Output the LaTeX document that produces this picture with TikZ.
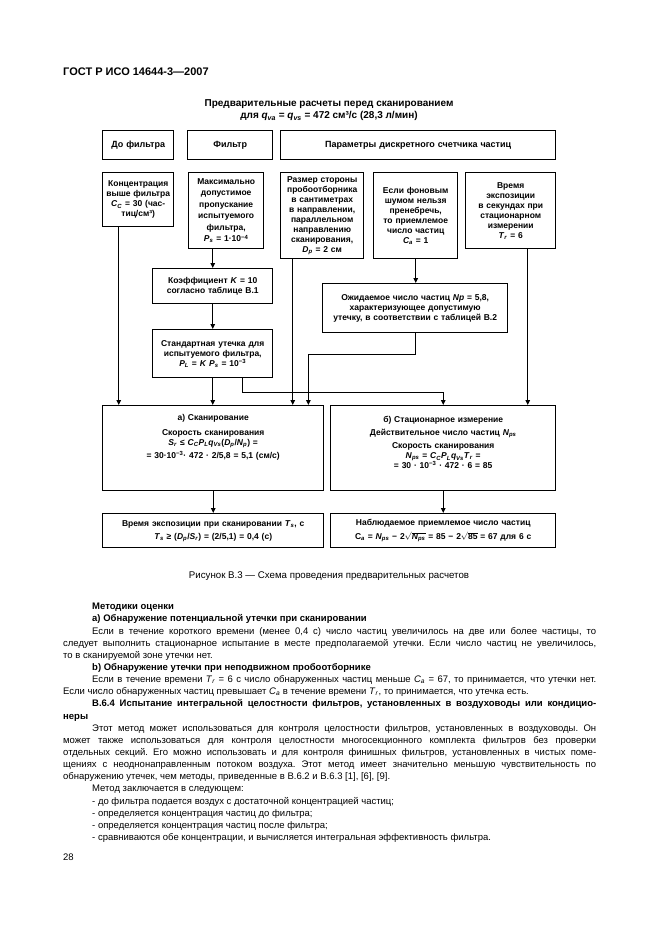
\documentclass[tikz,border=0pt]{standalone}
\usepackage{fontspec}
\setmainfont{Liberation Sans}
\usetikzlibrary{positioning,arrows.meta,calc}

\newcommand\vi[2]{\textit{#1}\textsubscript{\textit{#2}}}
\newcommand\rt[1]{$\sqrt{\vphantom{N}\smash{\hbox{#1}}}$}
\newcommand\txtw{533pt}
\newcommand\bodysp{\frenchspacing\spaceskip=.28em plus 1em minus .06em\relax}
\newcommand\lnfull[1]{\hbox to\txtw{#1}}
\newcommand\lnind[1]{\hbox to\txtw{\hskip29pt #1}}
\newcommand\lnlast[1]{\hbox to\txtw{#1\hfil}}
\newcommand\lnindlast[1]{\hbox to\txtw{\hskip29pt #1\hfil}}

\begin{document}
\begin{tikzpicture}[x=1pt,y=-1pt,
  hbox/.style={draw,line width=1.4pt,anchor=north west,inner xsep=2pt,inner ysep=0pt,
    align=center,font=\fontsize{8.5}{10}\selectfont\bfseries},
  arr/.style={line width=1.1pt,-{Triangle[length=5pt,width=4.5pt]}}]
          %\draw[help lines] (0,0) grid[step=50] (661,936);
          \fill[white] (0,0) rectangle (661,936);
          \useasboundingbox (0,0) rectangle (661,936);
          \node[anchor=base west,inner sep=0,font=\fontsize{11}{13}\selectfont\bfseries] (gost) at (63,76) {ГОСТ Р ИСО 14644-3—2007};
          %TITLE
          \node[anchor=north,inner sep=0,align=center,font=\fontsize{10}{12.5}\selectfont\bfseries] (ttl) at (329,99)
            {Предварительные расчеты перед сканированием\\ для \vi{q}{va} = \vi{q}{vs} = 472 см³/с (28,3 л/мин)};
          %ROW 1
          \node[hbox,text width=67pt,minimum height=29pt,font=\fontsize{9}{11}\selectfont\bfseries] (pre) at (102,130) {До фильтра};
          \node[hbox,text width=81pt,minimum height=29pt,font=\fontsize{9}{11}\selectfont\bfseries] (flt) at (187,130) {Фильтр};
          \node[hbox,text width=271pt,minimum height=29pt,font=\fontsize{9}{11}\selectfont\bfseries] (dpc) at (280,130) {Параметры дискретного счетчика частиц};
          %ROW 2
          \node[hbox,text width=67pt,minimum height=54pt] (A) at (102,172)
            {Концентрация\\ выше фильтра\\ \vi{C}{C} = 30 (час-\\ тиц/см³)};
          \node[hbox,text width=71pt,minimum height=76pt,font=\fontsize{8.5}{11.5}\selectfont\bfseries] (B) at (188,172)
            {Максимально\\ допустимое\\ пропускание\\ испытуемого\\ фильтра,\\ \vi{P}{s} = 1·10\textsuperscript{−4}};
          \node[hbox,text width=79pt,minimum height=86pt] (C) at (280,172)
            {Размер стороны\\ пробоотборника\\ в сантиметрах\\ в направлении,\\ параллельном\\ направлению\\ сканирования,\\ \vi{D}{p} = 2 см};
          \node[hbox,text width=80pt,minimum height=86pt] (D) at (373,172)
            {Если фоновым\\ шумом нельзя\\ пренебречь,\\ то приемлемое\\ число частиц\\ \vi{C}{a} = 1};
          \node[hbox,text width=86pt,minimum height=76pt] (E) at (465,172)
            {Время\\ экспозиции\\ в секундах при\\ стационарном\\ измерении\\ \vi{T}{r} = 6};
          %K, PL, Np
          \node[hbox,text width=116pt,minimum height=35pt] (K) at (152,268)
            {Коэффициент \textit{K} = 10\\ согласно таблице В.1};
          \node[hbox,text width=116pt,minimum height=48pt] (L) at (152,329)
            {Стандартная утечка для\\ испытуемого фильтра,\\ \vi{P}{L} = \textit{K} \vi{P}{s} = 10\textsuperscript{−3}};
          \node[hbox,text width=181pt,minimum height=49pt] (Np) at (322,283)
            {Ожидаемое число частиц \textit{Np} = 5,8,\\ характеризующее допустимую\\ утечку, в соответствии с таблицей В.2};
          %a) b)
          \node[hbox,text width=217pt,minimum height=85pt] (a) at (102,405)
            {а) Сканирование\\[5pt] Скорость сканирования\\ \vi{S}{r} ≤ \vi{C}{C}\vi{P}{L}\vi{q}{Vs}(\vi{D}{p}/\vi{N}{p}) =\\[3pt]
             = 30·10\textsuperscript{−3}· 472 · 2/5,8 = 5,1 (см/с)\vspace{22pt}};
          \node[hbox,text width=221pt,minimum height=85pt] (b) at (330,405)
            {б) Стационарное измерение\\[3pt] Действительное число частиц \vi{N}{ps}\\[3pt] Скорость сканирования\\
             \vi{N}{ps} = \vi{C}{C}\vi{P}{L}\vi{q}{Vs}\vi{T}{r} =\\ = 30 · 10\textsuperscript{−3} · 472 · 6 = 85\vspace{11pt}};
          \node[hbox,text width=217pt,minimum height=34pt] (a2) at (102,513)
            {Время экспозиции при сканировании \vi{T}{s}, с\\[3pt] \vi{T}{s} ≥ (\vi{D}{p}/\vi{S}{r}) = (2/5,1) = 0,4 (с)};
          \node[hbox,text width=221pt,minimum height=34pt] (b2) at (330,513)
            {Наблюдаемое приемлемое число частиц\\[4pt]
             C\textsubscript{\textit{a}} = \vi{N}{ps} − 2\rt{\vi{N}{ps}} = 85 − 2\rt{85} = 67 для 6 с};
          %CONNECTORS
          \coordinate (aA) at ([xshift=-19.5pt]A.south);
          \coordinate (cC) at ([xshift=-29.5pt]C.south);
          \coordinate (eE) at ([xshift=17pt]E.south);
          \coordinate (lb) at ([xshift=30pt]L.south);
          \draw[arr] (aA) -- (aA |- a.north);
          \draw[arr] (B.south -| K.north) -- (K.north);
          \draw[arr] (K) -- (L);
          \draw[arr] (L) -- (L |- a.north);
          \draw[arr] (lb) -- ++(0,14) -| (b.north);
          \draw[arr] (cC) -- (cC |- a.north);
          \draw[arr] (D.south) -- (D.south |- Np.north);
          \draw[arr] (Np.south) -- ++(0,21) -| ([xshift=-16pt]a.north east);
          \draw[arr] (eE) -- (eE |- b.north);
          \draw[arr] (a) -- (a2);
          \draw[arr] (b) -- (b2);
          %CAPTION
          \node[anchor=base,inner sep=0,font=\fontsize{9.7}{12}\selectfont] (cap) at (329,578)
            {Рисунок В.3 — Схема проведения предварительных расчетов};
          %TEXT
          \node[anchor=north west,inner sep=0,text width=\txtw,font=\fontsize{9.5}{12.15}\selectfont] (body) at (63,603) {\bodysp
            \lnindlast{\bfseries Методики оценки}
            \lnindlast{\bfseries а) Обнаружение потенциальной утечки при сканировании}
            \lnind{Если в течение короткого времени (менее 0,4 с) число частиц увеличилось на две или более частицы, то}
            \lnfull{следует выполнить стационарное испытание в месте предполагаемой утечки. Если число частиц не увеличилось,}
            \lnlast{то в сканируемой зоне утечки нет.}
            \lnindlast{\bfseries b) Обнаружение утечки при неподвижном пробоотборнике}
            \lnind{Если в течение времени \vi{T}{r} = 6 с число обнаруженных частиц меньше \vi{C}{a} = 67, то принимается, что утечки нет.}
            \lnlast{Если число обнаруженных частиц превышает \vi{C}{a} в течение времени \vi{T}{r}, то принимается, что утечка есть.}
            \lnind{\bfseries В.6.4 Испытание интегральной целостности фильтров, установленных в воздуховоды или кондицио-}
            \lnlast{\bfseries неры}
            \lnind{Этот метод может использоваться для контроля целостности фильтров, установленных в воздуховоды. Он}
            \lnfull{может также использоваться для контроля целостности многосекционного комплекта фильтров без проверки}
            \lnfull{отдельных секций. Его можно использовать и для контроля финишных фильтров, установленных в чистых поме-}
            \lnfull{щениях с неоднонаправленным потоком воздуха. Этот метод имеет значительно меньшую чувствительность по}
            \lnlast{обнаружению утечек, чем методы, приведенные в В.6.2 и В.6.3 [1], [6], [9].}
            \lnindlast{Метод заключается в следующем:}
            \lnindlast{- до фильтра подается воздух с достаточной концентрацией частиц;}
            \lnindlast{- определяется концентрация частиц до фильтра;}
            \lnindlast{- определяется концентрация частиц после фильтра;}
            \lnindlast{- сравниваются обе концентрации, и вычисляется интегральная эффективность фильтра.}};
          \node[anchor=base west,inner sep=0,font=\fontsize{9.5}{12}\selectfont] (pg) at (63,860) {28};
\end{tikzpicture}
\end{document}
